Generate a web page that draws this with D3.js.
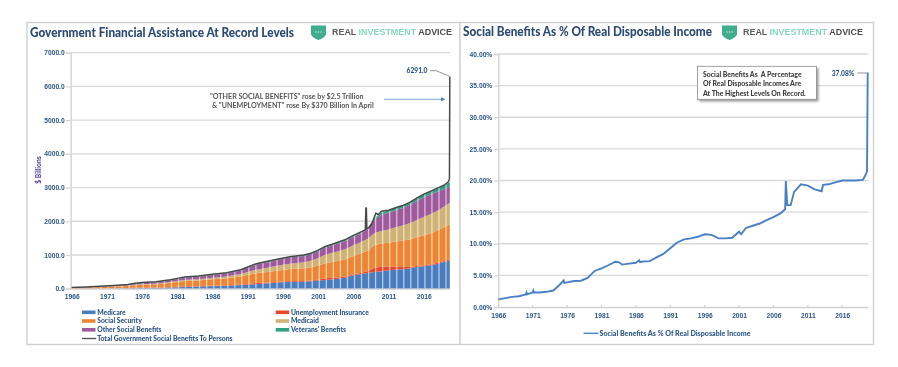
<!DOCTYPE html>
<html>
<head>
<meta charset="utf-8">
<script src="https://cdn.jsdelivr.net/npm/d3@7"></script>
<style>
body { margin: 0; background: #fff; }
svg { display: block; font-family: Lato, "Open Sans", sans-serif; }
.tick-label { fill: #2a5688; font-weight: 900; font-size: 6.7px; }
.legend-label { fill: #2a5688; font-weight: 900; font-size: 6.8px; }
.chart-title { fill: #2b4b76; font-weight: 900; font-size: 13px; }
.note { fill: #555; font-size: 7.1px; font-weight: 700; }
.brand { font-family: "Liberation Sans", sans-serif; font-size: 8.4px; font-weight: 700; }
</style>
</head>
<body>
<svg class="chart" width="898" height="367"></svg>
<script>
var years = [1966, 1967, 1968, 1969, 1970, 1971, 1972, 1973, 1974, 1975,
    1976, 1977, 1978, 1979, 1980, 1981, 1982, 1983, 1984, 1985,
    1986, 1987, 1988, 1989, 1990, 1991, 1992, 1993, 1994, 1995,
    1996, 1997, 1998, 1999, 2000, 2001, 2002, 2003, 2004, 2005,
    2006, 2007, 2008, 2009, 2010, 2011, 2012, 2013, 2014, 2015,
    2016, 2017, 2018, 2019, 2019.7];
var medicare = [0, 3, 5, 6, 7, 8, 9, 10, 13, 16,
    19, 22, 25, 29, 36, 43, 50, 56, 62, 70,
    75, 82, 87, 98, 107, 117, 130, 145, 160, 178,
    190, 205, 206, 208, 219, 240, 260, 275, 305, 335,
    400, 430, 465, 495, 515, 545, 565, 580, 610, 640,
    665, 695, 740, 800, 840];
var unemployment = [2, 2, 2, 2, 4, 6, 6, 4, 6, 17,
    16, 13, 9, 10, 16, 17, 26, 20, 14, 15,
    16, 15, 14, 15, 18, 26, 39, 34, 24, 22,
    22, 20, 20, 21, 21, 27, 53, 53, 36, 32,
    30, 33, 50, 130, 135, 108, 84, 62, 36, 32,
    31, 30, 28, 28, 28];
var socialSecurity = [20, 24, 27, 31, 36, 41, 46, 55, 63, 71,
    80, 88, 96, 108, 123, 139, 153, 162, 170, 180,
    190, 198, 210, 225, 240, 262, 280, 298, 312, 330,
    345, 360, 372, 380, 395, 420, 445, 465, 490, 515,
    540, 580, 610, 670, 690, 710, 750, 785, 815, 855,
    885, 920, 965, 1010, 1040];
var medicaid = [1, 2, 3, 4, 5, 7, 8, 9, 10, 13,
    15, 16, 18, 20, 24, 28, 31, 33, 36, 39,
    43, 47, 52, 60, 72, 90, 105, 118, 130, 140,
    150, 158, 165, 178, 195, 225, 250, 270, 290, 305,
    320, 335, 350, 360, 370, 395, 420, 445, 480, 510,
    545, 570, 590, 615, 640];
var otherBenefits = [6, 7, 8, 9, 10, 14, 16, 18, 22, 30,
    35, 36, 38, 40, 50, 58, 62, 72, 74, 76,
    80, 84, 88, 95, 105, 125, 150, 158, 165, 170,
    178, 180, 182, 185, 190, 200, 210, 220, 235, 245,
    250, 258, 280, 380, 480, 500, 510, 520, 540, 565,
    590, 585, 560, 510, 480];
var veterans = [5, 5, 6, 6, 7, 9, 10, 11, 12, 14,
    15, 15, 15, 16, 18, 19, 20, 20, 20, 20,
    20, 20, 20, 20, 20, 21, 22, 23, 24, 24,
    24, 25, 26, 26, 27, 28, 30, 33, 35, 37,
    38, 40, 44, 52, 60, 65, 68, 72, 76, 80,
    84, 90, 100, 110, 130];

var totalYears = [1966, 1968, 1970, 1972, 1974, 1975, 1976, 1978, 1980, 1981,
    1982, 1983, 1984, 1986, 1988, 1990, 1991, 1992, 1993, 1995,
    1997, 1999, 2000, 2001, 2002, 2003, 2004, 2005, 2006, 2007,
    2007.7, 2007.78, 2007.85, 2007.92, 2008.2, 2008.6, 2009.2, 2009.5, 2009.8, 2010,
    2011, 2012, 2013, 2014, 2015, 2016, 2017, 2018, 2019, 2019.5,
    2019.65, 2019.7];
var totalValues = [35, 51, 69, 95, 126, 161, 182, 203, 268, 306,
    344, 365, 378, 426, 473, 564, 643, 728, 778, 866,
    950, 1000, 1050, 1142, 1250, 1318, 1393, 1471, 1580, 1680,
    1745, 2390, 2385, 1780, 1810, 1910, 2240, 2200, 2250, 2300,
    2330, 2400, 2466, 2560, 2685, 2805, 2895, 2990, 3085, 3170,
    3250, 6291];

var ratioYears = [1966, 1967, 1968, 1969, 1970, 1970.1, 1970.2, 1971, 1971.1, 1971.2,
    1972, 1973, 1974, 1975, 1975.5, 1975.6, 1976, 1977, 1978, 1979,
    1980, 1981, 1982, 1983, 1983.5, 1984, 1985, 1986, 1986.5, 1986.6,
    1987, 1988, 1989, 1990, 1991, 1992, 1993, 1994, 1995, 1996,
    1997, 1998, 1999, 2000, 2001, 2001.3, 2002, 2003, 2004, 2005,
    2006, 2007, 2007.7, 2007.8, 2008, 2008.5, 2009, 2010, 2011, 2012,
    2013, 2013.2, 2014, 2015, 2016, 2017, 2018, 2019, 2019.3, 2019.6,
    2019.7];
var ratioValues = [1.2, 1.4, 1.6, 1.7, 2.0, 2.3, 2.0, 2.3, 2.6, 2.3,
    2.3, 2.4, 2.6, 3.6, 4.2, 3.8, 3.9, 4.1, 4.15, 4.6,
    5.7, 6.1, 6.6, 7.15, 7.1, 6.7, 6.85, 7.0, 7.4, 7.1,
    7.2, 7.25, 7.85, 8.4, 9.3, 10.2, 10.7, 10.85, 11.1, 11.5,
    11.4, 10.85, 10.85, 10.95, 11.9, 11.5, 12.5, 12.85, 13.2, 13.75,
    14.2, 14.8, 15.45, 19.9, 16.1, 16.1, 18.2, 19.4, 19.2, 18.6,
    18.3, 19.3, 19.4, 19.7, 20.0, 20.0, 20.0, 20.1, 20.7, 21.4,
    37.08];

var seriesNames = ["Medicare", "Unemployment Insurance", "Social Security", "Medicaid", "Other Social Benefits", "Veterans' Benefits"];
var seriesColors = ["#4a7dbd", "#e6462f", "#ee8533", "#d1b274", "#9e5a9c", "#2f9f80"];
var seriesValues = [medicare, unemployment, socialSecurity, medicaid, otherBenefits, veterans];
var tickYears = [1966, 1971, 1976, 1981, 1986, 1991, 1996, 2001, 2006, 2011, 2016];
var benefitTicks = [0, 1000, 2000, 3000, 4000, 5000, 6000, 7000];
var ratioTicks = [0, 5, 10, 15, 20, 25, 30, 35, 40];

var svg = d3.select(".chart");
var defs = svg.append("defs");
defs.append("filter").attr("id", "soften")
    .attr("x", 0).attr("y", 0)
    .attr("filterUnits", "userSpaceOnUse")
    .attr("primitiveUnits", "userSpaceOnUse")
    .attr("width", 898).attr("height", 367)
    .append("feGaussianBlur").attr("stdDeviation", 0.6);
var shadow = defs.append("filter").attr("id", "boxShadow");
shadow.append("feGaussianBlur").attr("stdDeviation", 1.2);

var root = svg.append("g").attr("filter", "url(#soften)");
root.append("rect").attr("width", 898).attr("height", 367).attr("fill", "#fff");

// panels
root.append("rect").attr("x", 27).attr("y", 22.5).attr("width", 433).attr("height", 322)
    .attr("fill", "#fff").attr("stroke", "#d0d0d0").attr("stroke-width", 1.4);
root.append("rect").attr("x", 460).attr("y", 22.5).attr("width", 413.5).attr("height", 322)
    .attr("fill", "#fff").attr("stroke", "#d0d0d0").attr("stroke-width", 1.4);

drawBenefitsChart();
drawRatioChart();
drawBrand(311, 332);
drawBrand(722, 743);

function styleAxis(axisGroup) {
    axisGroup.select(".domain").attr("stroke", "#d0d0d0").attr("stroke-width", 1.3);
    axisGroup.selectAll(".tick line").attr("stroke", "#d6d6d6").attr("stroke-width", 1.3);
    axisGroup.selectAll(".tick text").attr("class", "tick-label");
}

function drawBenefitsChart() {
    var x = d3.scaleLinear().domain([1966, 2019.7]).range([71.7, 449.8]);
    var y = d3.scaleLinear().domain([0, 7000]).range([288.7, 52.7]);

    var rows = years.map(function (year, i) {
        var row = {year: year};
        seriesNames.forEach(function (name, s) { row[name] = seriesValues[s][i]; });
        return row;
    });
    var layers = d3.stack().keys(seriesNames)(rows);

    var yAxis = root.append("g")
        .attr("transform", "translate(70.7,0)")
        .call(d3.axisLeft(y).tickValues(benefitTicks).tickFormat(d3.format(".1f")).tickSize(5).tickPadding(1));
    styleAxis(yAxis);
    // gridlines
    root.append("g").selectAll("line").data(benefitTicks.slice(1)).enter().append("line")
        .attr("x1", 70.7).attr("x2", 450)
        .attr("y1", function (d) { return y(d); })
        .attr("y2", function (d) { return y(d); })
        .attr("stroke", "#d8d8d8").attr("stroke-width", 1.3);

    var area = d3.area()
        .x(function (d) { return x(d.data.year); })
        .y0(function (d) { return y(d[0]); })
        .y1(function (d) { return y(d[1]); });

    root.append("g").selectAll("path").data(layers).enter().append("path")
        .attr("d", area)
        .attr("fill", function (d, i) { return seriesColors[i]; });

    // pale yearly stripes through the stack
    defs.append("clipPath").attr("id", "stackClip").append("path")
        .attr("d", d3.area()
            .x(function (d) { return x(d.data.year); })
            .y0(y(0))
            .y1(function (d) { return y(d[1]); })(layers[layers.length - 1]));
    root.append("g").attr("clip-path", "url(#stackClip)")
        .selectAll("rect").data(years.slice(0, -1)).enter().append("rect")
        .attr("x", function (d) { return x(d) + 0.5; })
        .attr("y", y(3400))
        .attr("width", 1.3)
        .attr("height", y(0) - y(3400))
        .attr("fill", "#fff").attr("opacity", 0.6);

    var totalLine = d3.line()
        .x(function (d) { return x(d); })
        .y(function (d, i) { return y(totalValues[i]); });
    root.append("path").attr("d", totalLine(totalYears))
        .attr("fill", "none").attr("stroke", "#4a4a4a").attr("stroke-width", 1.5);

    var xAxis = root.append("g")
        .attr("transform", "translate(0,288.7)")
        .call(d3.axisBottom(x).tickValues(tickYears).tickFormat(d3.format("d")).tickSize(0).tickPadding(6));
    styleAxis(xAxis);

    root.append("text").attr("class", "tick-label")
        .attr("transform", "translate(41,170) rotate(-90)")
        .style("text-anchor", "middle").style("fill", "#5b4fa6")
        .text("$ Billions");

    // end value label
    root.append("text").attr("class", "tick-label").attr("x", 417).attr("y", 73)
        .style("text-anchor", "middle").text("6291.0");
    root.append("path").attr("d", "M430,70.7 L436,70.7 L449,76")
        .attr("fill", "none").attr("stroke", "#777").attr("stroke-width", 0.8);

    root.append("text").attr("class", "note").attr("x", 210).attr("y", 98.5)
        .text("\"OTHER SOCIAL BENEFITS\" rose by $2.5 Trillion");
    root.append("text").attr("class", "note").attr("x", 212).attr("y", 108)
        .text("& \"UNEMPLOYMENT\" rose By $370 Billion In April");
    root.append("line").attr("x1", 384).attr("x2", 443).attr("y1", 99.3).attr("y2", 99.3)
        .attr("stroke", "#6f9bd1").attr("stroke-width", 0.9);
    root.append("path").attr("d", "M441,97.3 L445.5,99.3 L441,101.3 Z").attr("fill", "#4a7dbd");

    // legend
    var legendX = [82, 82, 82, 275.7, 275.7, 275.7];
    var legendY = [312.3, 321, 329.8, 312.3, 321, 329.8];
    var legendOrder = [0, 2, 4, 1, 3, 5];
    legendOrder.forEach(function (s, i) {
        root.append("rect").attr("x", legendX[i]).attr("y", legendY[i] - 1.8)
            .attr("width", 13.5).attr("height", 3.6).attr("fill", seriesColors[s]);
        root.append("text").attr("class", "legend-label")
            .attr("x", legendX[i] + 15.2).attr("y", legendY[i] + 2.3)
            .text(seriesNames[s]);
    });
    root.append("line").attr("x1", 82).attr("x2", 96).attr("y1", 338.5).attr("y2", 338.5)
        .attr("stroke", "#565656").attr("stroke-width", 1.4);
    root.append("text").attr("class", "legend-label").attr("x", 97.2).attr("y", 340.8)
        .text("Total Government Social Benefits To Persons");

    root.append("text").attr("class", "chart-title").attr("x", 30).attr("y", 37)
        .attr("textLength", 264).attr("lengthAdjust", "spacingAndGlyphs")
        .text("Government Financial Assistance At Record Levels");
}

function drawRatioChart() {
    var x = d3.scaleLinear().domain([1966, 2019.7]).range([498.3, 867.7]);
    var y = d3.scaleLinear().domain([0, 40]).range([307, 54]);

    var yAxis = root.append("g")
        .attr("transform", "translate(498.3,0)")
        .call(d3.axisLeft(y).tickValues(ratioTicks)
            .tickFormat(function (d) { return d3.format(".2f")(d) + "%"; })
            .tickSize(4).tickPadding(2));
    styleAxis(yAxis);
    root.append("g").selectAll("line").data(ratioTicks.slice(1)).enter().append("line")
        .attr("x1", 498.3).attr("x2", 868.5)
        .attr("y1", function (d) { return y(d); })
        .attr("y2", function (d) { return y(d); })
        .attr("stroke", "#d8d8d8").attr("stroke-width", 1.3);

    var xAxis = root.append("g")
        .attr("transform", "translate(0,307)")
        .call(d3.axisBottom(x).tickValues(tickYears).tickFormat(d3.format("d")).tickSize(0).tickPadding(6));
    styleAxis(xAxis);
    root.append("g").selectAll("line").data(tickYears).enter().append("line")
        .attr("x1", function (d) { return x(d); })
        .attr("x2", function (d) { return x(d); })
        .attr("y1", 305).attr("y2", 307)
        .attr("stroke", "#cfcfcf");

    var ratioLine = d3.line()
        .x(function (d) { return x(d); })
        .y(function (d, i) { return y(ratioValues[i]); });
    root.append("path").attr("d", ratioLine(ratioYears))
        .attr("fill", "none").attr("stroke", "#4a80c4").attr("stroke-width", 1.9);

    root.append("text").attr("class", "tick-label").attr("x", 843).attr("y", 76)
        .style("text-anchor", "middle").text("37.08%");
    root.append("line").attr("x1", 857.5).attr("x2", 867).attr("y1", 73).attr("y2", 73)
        .attr("stroke", "#777").attr("stroke-width", 0.8);

    // note box
    root.append("rect").attr("x", 699).attr("y", 68).attr("width", 119.5).attr("height", 33.5)
        .attr("fill", "#999").attr("filter", "url(#boxShadow)");
    root.append("rect").attr("x", 697.5).attr("y", 66.3).attr("width", 119).attr("height", 33)
        .attr("fill", "#fff").attr("stroke", "#8a8a8a").attr("stroke-width", 0.8);
    var noteLines = ["Social Benefits As  A Percentage", "Of Real Disposable Incomes Are", "At The Highest Levels On Record."];
    noteLines.forEach(function (line, i) {
        root.append("text").attr("class", "note").attr("x", 703).attr("y", 76.5 + i * 9.5)
            .style("fill", "#3c3c3c").style("font-weight", 900).style("font-size", "6.9px").style("white-space", "pre").text(line);
    });

    root.append("line").attr("x1", 583.5).attr("x2", 598.5).attr("y1", 333.3).attr("y2", 333.3)
        .attr("stroke", "#4f86c6").attr("stroke-width", 1.4);
    root.append("text").attr("class", "legend-label").attr("x", 599.5).attr("y", 335.6)
        .attr("textLength", 151).attr("lengthAdjust", "spacingAndGlyphs")
        .text("Social Benefits As % Of Real Disposable Income");

    root.append("text").attr("class", "chart-title").attr("x", 463).attr("y", 35.5)
        .attr("textLength", 249).attr("lengthAdjust", "spacingAndGlyphs")
        .text("Social Benefits As % Of Real Disposable Income");
}

function drawBrand(shieldX, textX) {
    var g = root.append("g").attr("transform", "translate(" + shieldX + ",25)");
    g.append("path").attr("d", "M0,0.5 L15,0.5 L15,9.5 Q13,13 7.5,15 Q2,13 0,9.5 Z").attr("fill", "#3fae8e");
    g.selectAll("circle").data([5, 7.5, 10]).enter().append("circle")
        .attr("cx", function (d) { return d; }).attr("cy", 7).attr("r", 0.7).attr("fill", "#d8f0e8");
    var label = root.append("text").attr("class", "brand").attr("x", textX).attr("y", 35.3);
    label.append("tspan").attr("fill", "#5c5c5c").text("REAL ");
    label.append("tspan").attr("fill", "#86d8bc").text("INVESTMENT ");
    label.append("tspan").attr("fill", "#4c4c4c").text("ADVICE");
    label.attr("textLength", 120).attr("lengthAdjust", "spacingAndGlyphs");
}
</script>
</body>
</html>
